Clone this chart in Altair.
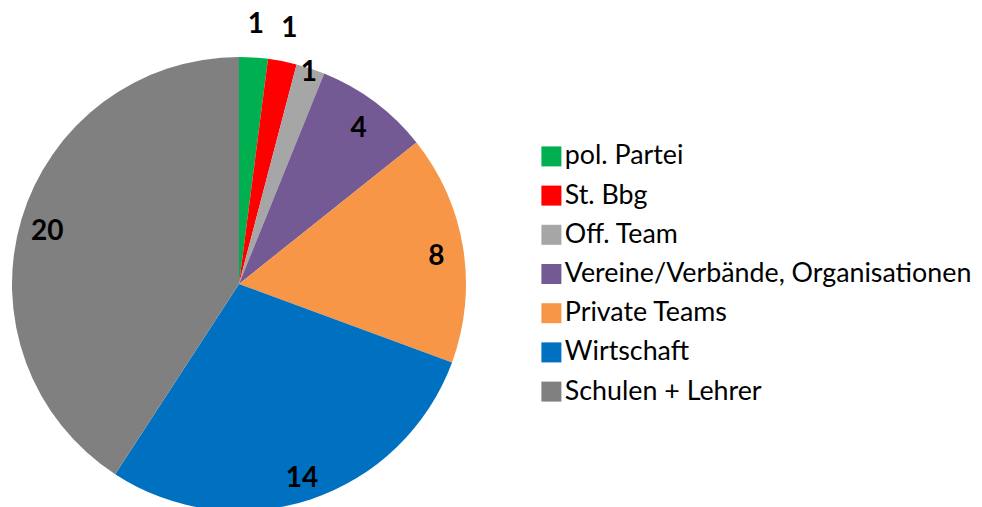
import altair as alt
import pandas as pd

categories = ["pol. Partei", "St. Bbg", "Off. Team", "Vereine/Verbände, Organisationen",
              "Private Teams", "Wirtschaft", "Schulen + Lehrer"]
values = [1, 1, 1, 4, 8, 14, 20]
colors = ["#00B050", "#FF0000", "#A6A6A6", "#735A94", "#F79646", "#0070C0", "#808080"]
label_group = ["outer", "outer", "mid", "inner", "inner", "inner", "inner"]

df = pd.DataFrame({
    "cat": categories,
    "val": values,
    "ord": list(range(len(categories))),
    "grp": label_group,
})

FONT = "Lato"
PAD_TOP = 20
cx, cy, R = 226, 284 - 8 - PAD_TOP, 227

theta_scale = alt.Scale(domain=[0, 1], range=[0, 6.283185307179586])

base = alt.Chart(df).transform_window(
    cum="sum(val)", sort=[alt.SortField("ord")]
).transform_joinaggregate(
    total="sum(val)"
).transform_calculate(
    t0="(datum.cum - datum.val) / datum.total",
    t1="datum.cum / datum.total",
    tm="(datum.cum - datum.val / 2) / datum.total",
)

pie = base.mark_arc(radius=R).encode(
    x=alt.value(cx), y=alt.value(cy),
    theta=alt.Theta("t0:Q", scale=theta_scale),
    theta2="t1:Q",
    color=alt.Color(
        "cat:N",
        scale=alt.Scale(domain=categories, range=colors),
        sort=categories,
        legend=alt.Legend(
            title=None, orient="none", legendX=525, legendY=130 - PAD_TOP + 5,
            symbolType="square", symbolSize=400, symbolStrokeWidth=0,
            labelFontSize=26.8, labelFont=FONT, labelColor="#000000",
            labelOffset=0, rowPadding=11.2, labelLimit=600,
        ),
    ),
)

def lbl(group, r, dy=0):
    return base.transform_filter(alt.datum.grp == group).mark_text(
        font=FONT, fontSize=28, fontWeight="bold", color="#000000", dy=dy,
    ).encode(
        x=alt.value(cx), y=alt.value(cy),
        theta=alt.Theta("tm:Q", scale=theta_scale),
        radius=alt.value(r), text="val:Q",
    )

chart = alt.layer(
    pie, lbl("outer", 264, 4), lbl("mid", 222), lbl("inner", 200, 5)
).properties(
    width=961, height=480,
    padding={"left": 5, "top": PAD_TOP, "right": 0, "bottom": 0},
    autosize=alt.AutoSizeParams(type="none"),
).configure_view(stroke=None)

chart.save("out.html", embed_options={"renderer": "svg", "actions": False})
